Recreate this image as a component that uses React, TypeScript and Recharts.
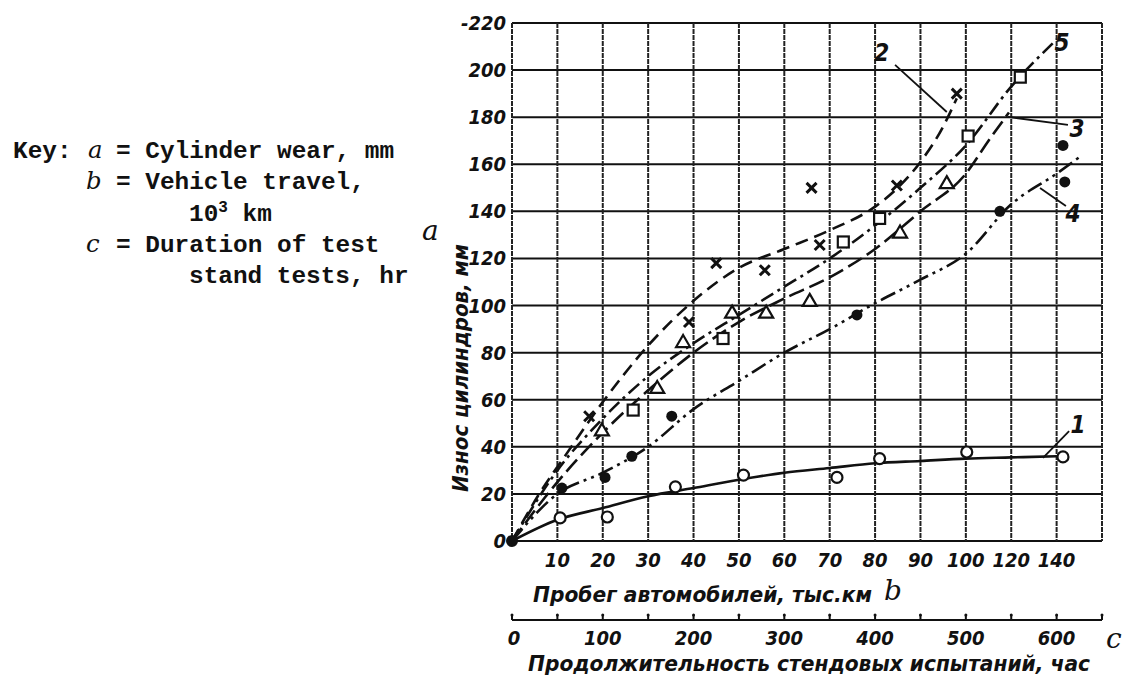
import React from "react";
import {
  CartesianGrid,
  ComposedChart,
  Label,
  Line,
  ReferenceDot,
  ReferenceLine,
  Scatter,
  XAxis,
  YAxis,
} from "recharts";

// vehicle travel, thousand km (axis is stretched: 10..100 by 10, then 120, 140)
const kmTicks = [10, 20, 30, 40, 50, 60, 70, 80, 90, 100, 120, 140];
const wearTicks = [0, 20, 40, 60, 80, 100, 120, 140, 160, 180, 200, 220];
const wearTickLabels = ["0", "20", "40", "60", "80", "100", "120", "140", "160", "180", "200", "-220"];
// test stand hours: small marks every 50 h, numbers every 100 h
const hourMarks = [0, 50, 100, 150, 200, 250, 300, 350, 400, 450, 500, 550, 600, 650];
const hourLabels = [0, 100, 200, 300, 400, 500, 600];

// curve 1 - open circles, solid
const c1Km = [0, 10, 20, 30, 40, 50, 60, 70, 80, 90, 100, 120, 140];
const c1Wear = [0, 9, 14, 19, 22.5, 26, 29, 31, 33, 34, 35, 35.5, 36];
const p1Km = [10.6, 21, 36, 51, 71.6, 81, 100.4, 142.8];
const p1Wear = [9.8, 10.2, 23, 28, 27, 35, 37.8, 35.7];

// curve 2 - crosses, long dashes
const c2Km = [0, 6, 12, 20, 30, 40, 50, 60, 70, 80, 85, 90, 95, 98];
const c2Wear = [0, 20, 37, 59, 83, 102, 116, 124, 132, 142, 150, 161, 176, 188];
const p2Km = [17, 39, 45, 55.7, 66, 67.8, 84.8, 98];
const p2Wear = [53, 93, 118, 115, 150, 125.7, 151, 190];

// curve 3 - triangles
const c3Km = [0, 10, 20, 30, 40, 50, 60, 70, 80, 90, 100, 110, 119];
const c3Wear = [0, 25, 46, 64, 80, 93, 103, 112, 124, 140, 156, 170, 182];
const p3Km = [19.8, 32, 37.7, 48.5, 56, 65.6, 85.5, 95.8];
const p3Wear = [47, 65, 84.5, 97, 97, 102, 131, 152];

// curve 4 - filled dots, dash-dot-dot
const c4Km = [0, 10, 20, 30, 40, 50, 60, 70, 80, 90, 100, 120, 140, 150];
const c4Wear = [0, 20, 29, 40, 56, 68, 80, 90, 101, 111, 122, 143, 156, 163];
const p4Km = [11, 20.5, 26.4, 35.2, 76, 115, 143.6, 142.8];
const p4Wear = [22.5, 27, 36, 53, 96, 140, 152.5, 168];

// curve 5 - squares, dash-dot
const c5Km = [0, 10, 20, 30, 40, 50, 60, 70, 80, 90, 100, 120, 140];
const c5Wear = [0, 30, 52, 70, 84, 96, 108, 120, 134, 150, 168, 193, 213];
const p5Km = [26.7, 46.5, 73, 81, 101, 124];
const p5Wear = [55.6, 86, 127, 137, 172, 197];

// curve number labels and their leader lines (km, mm)
const curveNames = ["1", "2", "3", "4", "5"];
const nameKm = [149.4, 81.5, 149, 147.2, 142.4];
const nameWear = [49.3, 207.3, 175.4, 139.3, 211.9];
const leaderFromKm = [145.5, 84.4, 118.6, 144.1];
const leaderFromWear = [46.7, 202.2, 180.1, 142.3];
const leaderToKm = [134, 95.8, 145, 132.7];
const leaderToWear = [35.3, 182.2, 176.7, 149.9];

// km -> position on the stretched axis
const kmToPos = (km: number) => (km <= 100 ? km / 10 : 10 + (km - 100) / 20);
const rows = (km: number[], wear: number[]) =>
  km.map((k, i) => ({ x: kmToPos(k), y: wear[i] }));

const INK = "#111";
const drawFont = "'Liberation Sans Narrow', 'DejaVu Sans Condensed', 'Liberation Sans', sans-serif";
const typeFont = "'Liberation Mono', 'DejaVu Sans Mono', monospace";
const handFont = "'DejaVu Serif', serif";

const posTicks = [0, ...kmTicks.map(kmToPos), 13];
// anchors the hours scale (nothing is drawn for them)
const hourAnchors = hourMarks.map((h) => ({ h, y: 0 }));

const KmTick = ({ x, y, payload }: any) => {
  const i = posTicks.indexOf(payload.value);
  if (i <= 0 || i > kmTicks.length) return null;
  return (
    <text x={x} y={y + 26} textAnchor="middle" fill={INK} fontFamily={drawFont}
      fontSize={20} fontWeight="bold" fontStyle="italic">
      {kmTicks[i - 1]}
    </text>
  );
};

const WearTick = ({ x, y, payload }: any) => {
  const i = wearTicks.indexOf(payload.value);
  return (
    <text x={x} y={y + 7} textAnchor="end" fill={INK} fontFamily={drawFont}
      fontSize={20} fontWeight="bold" fontStyle="italic">
      {wearTickLabels[i]}
    </text>
  );
};

const HourTick = ({ x, y, payload }: any) => {
  const v = payload.value;
  return (
    <g>
      <line x1={x} x2={x} y1={y - 5} y2={y} stroke={INK} strokeWidth={2} />
      <circle cx={x} cy={y - 5} r={1.5} fill={INK} />
      {hourLabels.includes(v) && (
        <text x={v === 0 ? x + 2 : x} y={y + 25} textAnchor="middle" fill={INK}
          fontFamily={drawFont} fontSize={20} fontWeight="bold" fontStyle="italic">
          {v}
        </text>
      )}
    </g>
  );
};

const KmTitle = ({ viewBox }: any) => (
  <text x={viewBox.x + 21} y={viewBox.y + 61} fill={INK} fontFamily={drawFont}
    fontSize={21} fontWeight="bold" fontStyle="italic" textLength={339}
    lengthAdjust="spacingAndGlyphs">
    Пробег автомобилей, тыс.км
  </text>
);

const HourTitle = ({ viewBox }: any) => (
  <text x={viewBox.x + 16} y={viewBox.y + 51} fill={INK} fontFamily={drawFont}
    fontSize={21} fontWeight="bold" fontStyle="italic" textLength={562}
    lengthAdjust="spacingAndGlyphs">
    Продолжительность стендовых испытаний, час
  </text>
);

const WearTitle = ({ viewBox }: any) => {
  const cx = viewBox.x + viewBox.width - 51;
  const cy = viewBox.y + 345;
  return (
    <text x={cx} y={cy} transform={`rotate(-90 ${cx} ${cy})`} textAnchor="middle"
      dominantBaseline="central" fill={INK} fontFamily={drawFont} fontSize={21}
      fontWeight="bold" fontStyle="italic" textLength={248} lengthAdjust="spacingAndGlyphs">
      Износ цилиндров, мм
    </text>
  );
};

const OpenCircle = ({ cx, cy }: any) => (
  <circle cx={cx} cy={cy} r={5.5} fill="#fff" stroke={INK} strokeWidth={2.2} />
);
const Cross = ({ cx, cy }: any) => (
  <path d={`M${cx - 5},${cy - 5}L${cx + 5},${cy + 5}M${cx + 5},${cy - 5}L${cx - 5},${cy + 5}`}
    stroke={INK} strokeWidth={3} />
);
const Triangle = ({ cx, cy }: any) => (
  <path d={`M${cx},${cy - 7}L${cx + 7},${cy + 5}L${cx - 7},${cy + 5}Z`} fill="#fff"
    stroke={INK} strokeWidth={2.2} />
);
const Dot = ({ cx, cy }: any) => <circle cx={cx} cy={cy} r={5.5} fill={INK} />;
const Square = ({ cx, cy }: any) => (
  <rect x={cx - 5.5} y={cy - 5.5} width={11} height={11} fill="#fff" stroke={INK}
    strokeWidth={2.2} />
);
const Nothing = () => <g />;

const curves = [
  { line: rows(c1Km, c1Wear), pts: rows(p1Km, p1Wear), dash: undefined, shape: OpenCircle },
  { line: rows(c2Km, c2Wear), pts: rows(p2Km, p2Wear), dash: "13 7", shape: Cross },
  { line: rows(c3Km, c3Wear), pts: rows(p3Km, p3Wear), dash: "16 6", shape: Triangle },
  { line: rows(c4Km, c4Wear), pts: rows(p4Km, p4Wear), dash: "16 5 3 5 3 5", shape: Dot },
  { line: rows(c5Km, c5Wear), pts: rows(p5Km, p5Wear), dash: "14 5 3 5", shape: Square },
];

const Key = () => (
  <svg width={1137} height={689}
    style={{ position: "absolute", left: 0, top: 0, pointerEvents: "none" }}>
    <g fontFamily={typeFont} fontSize={24.4} fontWeight="bold" fill={INK}>
      <text x={13} y={158}>Key:</text>
      <text x={88} y={158} fontFamily={handFont} fontStyle="italic" fontWeight="normal">a</text>
      <text x={116} y={158}>= Cylinder wear, mm</text>
      <text x={86} y={189} fontFamily={handFont} fontStyle="italic" fontWeight="normal">b</text>
      <text x={116} y={189}>= Vehicle travel,</text>
      <text x={189} y={221}>
        10<tspan dy={-9} fontSize={16}>3</tspan>
        <tspan dy={9}> km</tspan>
      </text>
      <text x={86} y={252} fontFamily={handFont} fontStyle="italic" fontWeight="normal">c</text>
      <text x={116} y={252}>= Duration of test</text>
      <text x={189} y={283}>stand tests, hr</text>
    </g>
    <g fontFamily={handFont} fontStyle="italic" fill={INK} fontSize={28}>
      <text x={422} y={240}>a</text>
      <text x={884} y={600}>b</text>
      <text x={1106} y={648}>c</text>
    </g>
  </svg>
);

export default function App() {
  return (
    <div style={{ position: "absolute", left: 0, top: 0, width: 1137, height: 689, background: "#fff" }}>
      <ComposedChart width={1137} height={689}
        margin={{ top: 23, right: 35, bottom: 0, left: 0 }}>
        <CartesianGrid vertical={false} stroke={INK} strokeWidth={2} />
        <CartesianGrid horizontal={false} stroke="#222" strokeWidth={2} strokeDasharray="5 1" />
        <XAxis dataKey="x" type="number" domain={[0, 13]} ticks={posTicks} interval={0}
          allowDataOverflow axisLine={false} tickLine={false} tickSize={0} tickMargin={0}
          height={79} tick={<KmTick />}>
          <Label content={<KmTitle />} />
        </XAxis>
        <XAxis xAxisId="h" dataKey="h" type="number" domain={[0, 650]} ticks={hourMarks}
          interval={0} allowDataOverflow axisLine={{ stroke: INK, strokeWidth: 2 }}
          tickLine={false} tickSize={0} tickMargin={0} height={69} tick={<HourTick />}>
          <Label content={<HourTitle />} />
        </XAxis>
        <YAxis dataKey="y" type="number" domain={[0, 220]} ticks={wearTicks} interval={0}
          allowDataOverflow axisLine={false} tickLine={false} tickSize={0} tickMargin={6}
          width={512} tick={<WearTick />}>
          <Label content={<WearTitle />} />
        </YAxis>
        <Scatter xAxisId="h" data={hourAnchors} dataKey="y" shape={<Nothing />}
          isAnimationActive={false} />
        {curves.map((c, i) => (
          <Line key={`l${i}`} data={c.line} dataKey="y" type="monotone" stroke={INK}
            strokeWidth={2.6} strokeDasharray={c.dash} dot={false} activeDot={false}
            isAnimationActive={false} />
        ))}
        {curves.map((c, i) => (
          <Scatter key={`s${i}`} data={c.pts} dataKey="y" shape={c.shape}
            isAnimationActive={false} />
        ))}
        <ReferenceDot x={0} y={0} r={6} fill={INK} stroke="none" />
        {leaderFromKm.map((k, i) => (
          <ReferenceLine key={`ld${i}`} ifOverflow="extendDomain"
            segment={[
              { x: kmToPos(k), y: leaderFromWear[i] },
              { x: kmToPos(leaderToKm[i]), y: leaderToWear[i] },
            ]}
            stroke={INK} strokeWidth={1.8} />
        ))}
        {curveNames.map((n, i) => (
          <ReferenceDot key={`n${i}`} x={kmToPos(nameKm[i])} y={nameWear[i]} r={0}
            fill="none" stroke="none"
            label={{ value: n, position: "center", fill: INK, fontSize: 24,
              fontStyle: "italic", fontWeight: "bold", fontFamily: drawFont }} />
        ))}
      </ComposedChart>
      <Key />
    </div>
  );
}
